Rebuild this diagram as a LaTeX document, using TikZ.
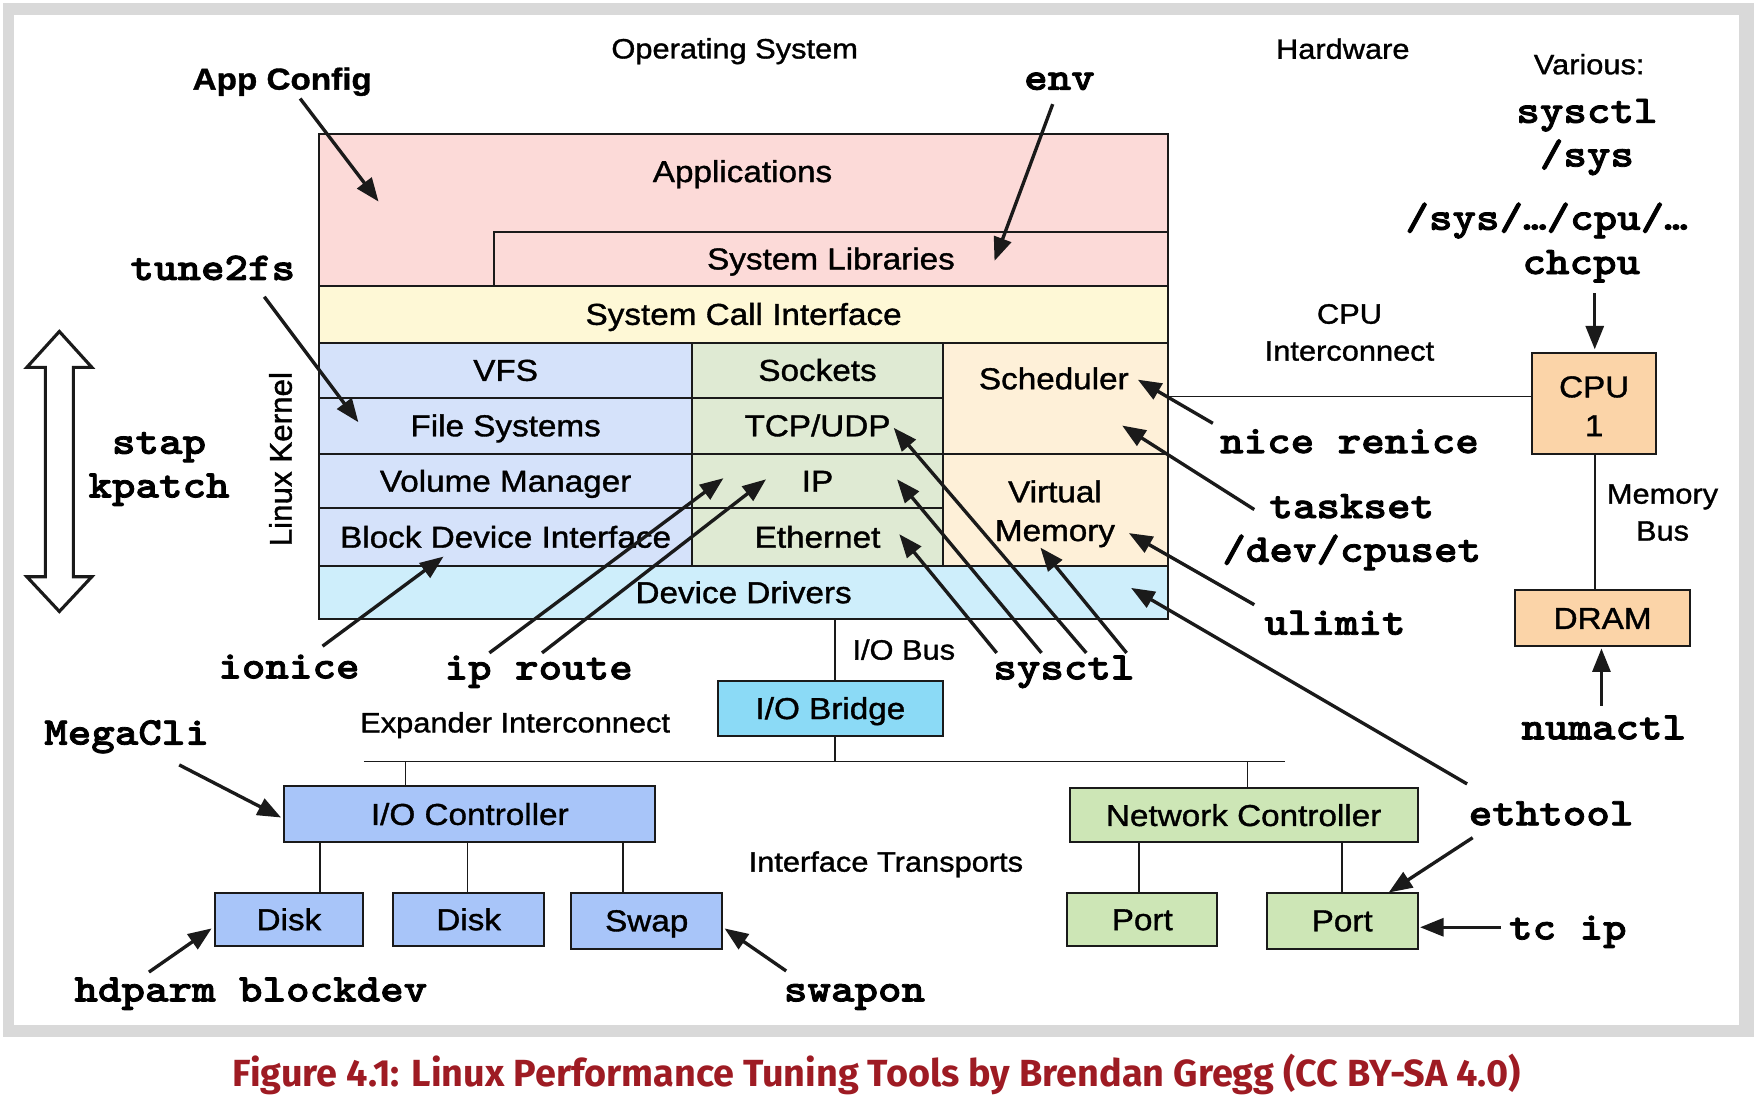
\documentclass[tikz,border=0pt]{standalone}
\usepackage{graphicx}
\usepackage{fontspec}
\setmainfont[FakeStretch=1.1,FakeBold=1.2]{Liberation Sans}
\newfontfamily\plainsans[FakeBold=1.2]{Liberation Sans}
\newfontfamily\cmdfont{lmmonolt10-bold}[Extension=.otf, FakeStretch=1.143, FakeBold=2]
\newfontfamily\capfont{Fira Sans}
\usetikzlibrary{arrows.meta,fit}
\definecolor{appc}{HTML}{FCDAD8}
\definecolor{scic}{HTML}{FEF8D6}
\definecolor{fsc}{HTML}{D5E2FA}
\definecolor{netc}{HTML}{DFEAD3}
\definecolor{schc}{HTML}{FEF0D8}
\definecolor{ddc}{HTML}{CEEEFB}
\definecolor{cpuc}{HTML}{FBD4A8}
\definecolor{iobc}{HTML}{8BDAF6}
\definecolor{iocc}{HTML}{A8C5F9}
\definecolor{ncc}{HTML}{CDE6B6}
\definecolor{framec}{HTML}{D9D9D9}
\definecolor{capc}{HTML}{9E1B23}
\definecolor{ink}{HTML}{1A1A1A}
\tikzset{
  box/.style={draw=ink, line width=0.9pt, inner sep=0pt, outer sep=0pt},
  bl/.style={font=\fontsize{13.5}{17.2}\selectfont, inner sep=0pt, text height=0.716em, text depth=0pt, yshift=-1.2pt},
  ml/.style={font=\fontsize{13.5}{17.3}\selectfont, inner sep=0pt, align=center, anchor=base, yshift=-1.2pt},
  pl/.style={font=\fontsize{12.5}{17.2}\selectfont, inner sep=0pt, anchor=base},
  pml/.style={font=\fontsize{12.5}{16.5}\selectfont, inner sep=0pt, align=center, anchor=base},
  cmd/.style={font=\fontsize{17.5}{20}\selectfont\cmdfont, inner sep=0pt, anchor=base, yshift=-0.6pt},
  cmdml/.style={font=\fontsize{17.5}{19.5}\selectfont\cmdfont, inner sep=0pt, anchor=base, align=center, yshift=-0.6pt},
  arr/.style={draw=ink, line width=1.5pt, -{Triangle[length=10.5pt,width=8pt]}},
  wire/.style={draw=ink, line width=0.8pt}
}
\begin{document}
\begin{tikzpicture}[x=0.5pt,y=-0.5pt]
% frame
\fill[white] (0,0) rectangle (1568,983);
\fill[framec] (2.5,3) rectangle (1566,926);
\fill[white] (12.5,13.5) rectangle (1553,915);
\useasboundingbox (0,0) rectangle (1568,983);

% kernel stack
\node[box, fill=appc, fit={(285,120)(1043,255)}] (apps) {};
\node[box, fill=appc, fit={(441,207)(1043,255)}] (syslib) {};
\node[box, fill=scic, fit={(285,255)(1043,306)}] (sci) {};
\node[box, fill=fsc, fit={(285,306)(618,355)}] (vfs) {};
\node[box, fill=fsc, fit={(285,355)(618,405)}] (fs) {};
\node[box, fill=fsc, fit={(285,405)(618,454)}] (vol) {};
\node[box, fill=fsc, fit={(285,454)(618,505)}] (bdi) {};
\node[box, fill=netc, fit={(618,306)(842,355)}] (sock) {};
\node[box, fill=netc, fit={(618,355)(842,405)}] (tcp) {};
\node[box, fill=netc, fit={(618,405)(842,454)}] (ip) {};
\node[box, fill=netc, fit={(618,454)(842,505)}] (eth) {};
\node[box, fill=schc, fit={(842,306)(1043,405)}] (sched) {};
\node[box, fill=schc, fit={(842,405)(1043,505)}] (vmem) {};
\node[box, fill=ddc, fit={(285,505)(1043,553)}] (dd) {};

\node[bl] (tapps) at (663,153) {Applications};
\node[bl] (tsyslib) at (syslib) {System Libraries};
\node[bl] (tsci) at (sci) {System Call Interface};
\node[bl] (tvfs) at (vfs) {VFS};
\node[bl] (tfs) at (fs) {File Systems};
\node[bl] (tvol) at (vol) {Volume Manager};
\node[bl] (tbdi) at (bdi) {Block Device Interface};
\node[bl] (tsock) at (sock) {Sockets};
\node[bl] (ttcp) at (tcp) {TCP/UDP};
\node[bl] (tip) at (ip) {IP};
\node[bl] (teth) at (eth) {Ethernet};
\node[bl] (tsched) at (941,338) {Scheduler};
\node[ml] (tvmem) at (942,480.7) {Virtual\\Memory};
\node[bl] (tdd) at (dd) {Device Drivers};

% hardware boxes
\node[box, fill=cpuc, fit={(1368,315)(1479,405)}] (cpu) {};
\node[ml] (tcpu) at (1423.5,387) {CPU\\1};
\node[box, fill=cpuc, fit={(1353,527)(1509,577)}] (dram) {};
\node[bl] (tdram) at (dram) {DRAM};
\node[box, fill=iobc, fit={(641,608)(842,657)}] (iob) {};
\node[bl] (tiob) at (iob) {I/O Bridge};
\node[box, fill=iocc, fit={(254,702)(585,752)}] (ioc) {};
\node[bl] (tioc) at (ioc) {I/O Controller};
\node[box, fill=iocc, fit={(192,797)(324,845)}] (disk1) {};
\node[bl] (tdisk1) at (disk1) {Disk};
\node[box, fill=iocc, fit={(351,797)(486,845)}] (disk2) {};
\node[bl] (tdisk2) at (disk2) {Disk};
\node[box, fill=iocc, fit={(510,797)(645,847)}] (swap) {};
\node[bl] (tswap) at (swap) {Swap};
\node[box, fill=ncc, fit={(955,704)(1266,752)}] (nc) {};
\node[bl] (tnc) at (nc) {Network Controller};
\node[box, fill=ncc, fit={(953,797)(1087,845)}] (port1) {};
\node[bl] (tport1) at (port1) {Port};
\node[box, fill=ncc, fit={(1131,797)(1266,847)}] (port2) {};
\node[bl] (tport2) at (port2) {Port};

% wires
\draw[wire] ([yshift=3pt]cpu.west) -- ([yshift=3pt]cpu.west -| sched.east);
\draw[wire] ([xshift=0.5pt]cpu.south) -- ([xshift=0.5pt]cpu.south |- dram.north);
\draw[wire] ([xshift=2pt]iob.north) -- ([xshift=2pt]iob.north |- dd.south);
\coordinate (busL) at (325,680);
\coordinate (busR) at (1147,680);
\coordinate (ioctap) at (362,680);
\coordinate (nctap) at (1114,680);
\draw[wire] (busL) -- (busR);
\draw[wire] ([xshift=2pt]iob.south) -- ([xshift=2pt]iob.south |- busL);
\draw[wire] (ioctap) -- (ioctap |- ioc.north);
\draw[wire] (nctap) -- (nctap |- nc.north);
\draw[wire] ([xshift=14pt]disk1.north) -- ([xshift=14pt]disk1.north |- ioc.south);
\draw[wire] ([xshift=-0.5pt]disk2.north) -- ([xshift=-0.5pt]disk2.north |- ioc.south);
\draw[wire] ([xshift=-10.75pt]swap.north) -- ([xshift=-10.75pt]swap.north |- ioc.south);
\draw[wire] ([xshift=-1.5pt]port1.north) -- ([xshift=-1.5pt]port1.north |- nc.south);
\draw[wire] (port2.north) -- (port2.north |- nc.south);

% plain labels
\node[pl] (los) at (656,52.2) {Operating System};
\node[pl] (lhw) at (1199,52.5) {Hardware};
\node[pl] (lvar) at (1419,66.3) {Various:};
\node[pml] (lcpuic) at (1205,322) {CPU\\Interconnect};
\node[pml] (lmembus) at (1484.5,482.7) {Memory\\Bus};
\node[pl] (liobus) at (807,589) {I/O Bus};
\node[pl] (lexp) at (460,654) {Expander Interconnect};
\node[pl] (lift) at (791,778.3) {Interface Transports};
\node[inner sep=0pt, anchor=base, rotate=90, font=\plainsans\fontsize{14}{17}\selectfont] (llk) at (260.5,410) {Linux Kernel};

% tool labels
\node[inner sep=0pt, anchor=base, font=\fontsize{13.5}{16}\selectfont\bfseries] (appcfg) at (252,80) {App Config};
\node[cmd] (cenv) at (946,79) {env};
\node[cmdml] (csys) at (1417,147.5) {sysctl\\/sys};
\node[cmd] (csyscpu) at (1381,204) {/sys/…/cpu/…};
\node[cmd] (cchcpu) at (1412,243.5) {chcpu};
\node[cmd] (ctune) at (190,248.8) {tune2fs};
\node[cmdml] (cstap) at (142,443) {stap\\kpatch};
\node[cmd] (cnice) at (1205,403.4) {nice renice};
\node[cmdml] (ctask) at (1207,500.4) {taskset\\/dev/cpuset};
\node[cmd] (culimit) at (1192,565.5) {ulimit};
\node[cmd] (csysctl) at (950,605.5) {sysctl};
\node[cmd] (cnuma) at (1432,659) {numactl};
\node[cmd] (ceth) at (1385,735.7) {ethtool};
\node[cmd] (ctc) at (1400,837.7) {tc ip};
\node[cmd] (cswapon) at (763,893) {swapon};
\node[cmd] (cionice) at (258,604.6) {ionice};
\node[cmd] (cip) at (481,605.5) {ip route};
\node[cmd] (cmega) at (113,663.7) {MegaCli};
\node[cmd] (chd) at (224,893) {hdparm blockdev};

% double arrow
\draw[draw=ink, line width=1.4pt, fill=white, line join=miter]
  (53,296) -- (82,328) -- (65.5,328) -- (65.5,515) -- (82,515) -- (53,546)
  -- (24,515) -- (40.5,515) -- (40.5,328) -- (24,328) -- cycle;

% arrow endpoints
\coordinate (a1s) at (268,88);   \coordinate (a1e) at (338,180);
\coordinate (a2s) at (940,93);   \coordinate (a2e) at (888,233);
\coordinate (a3s) at (236,265);  \coordinate (a3e) at (320,377);
\coordinate (a4s) at (1083,378); \coordinate (a4e) at (1016,339);
\coordinate (a5s) at (1120,455); \coordinate (a5e) at (1002,380);
\coordinate (a6s) at (1120,540); \coordinate (a6e) at (1008,476);
\coordinate (a7s) at (1310,700); \coordinate (a7e) at (1010,525);
\coordinate (a8s) at (1315,748); \coordinate (a8e) at (1240,797);
\coordinate (a9s) at (1340,828); \coordinate (a9e) at (1268,828);
\coordinate (b1s) at (890,583);  \coordinate (b1e) at (803,477);
\coordinate (b2s) at (930,583);  \coordinate (b2e) at (801,428);
\coordinate (b3s) at (970,583);  \coordinate (b3e) at (798,382);
\coordinate (b4s) at (1006,583); \coordinate (b4e) at (929,489);
\coordinate (c1s) at (288,577);  \coordinate (c1e) at (396,497);
\coordinate (c2s) at (437,583);  \coordinate (c2e) at (646,427);
\coordinate (c3s) at (484,583);  \coordinate (c3e) at (684,428);
\coordinate (d1s) at (160,683);  \coordinate (d1e) at (251,730);
\coordinate (d2s) at (133,868);  \coordinate (d2e) at (189,829);
\coordinate (d3s) at (702,867);  \coordinate (d3e) at (647,829);
\coordinate (d4s) at (1430,630); \coordinate (d4e) at (1430,579);
\coordinate (d5s) at (1424,262); \coordinate (d5e) at (1424,312);

\foreach \n in {a1,a2,a3,a4,a5,a6,a7,a8,a9,b1,b2,b3,b4,c1,c2,c3,d1,d2,d3,d4,d5}
  \draw[arr] (\n s) -- (\n e);

% caption
\node[anchor=base, text=capc, inner sep=0pt] (cap) at (783,970)
  {\resizebox{575pt}{14.5pt}{\capfont\bfseries Figure 4.1: Linux Performance Tuning Tools by Brendan Gregg (CC BY-SA 4.0)}};
\end{tikzpicture}
\end{document}
